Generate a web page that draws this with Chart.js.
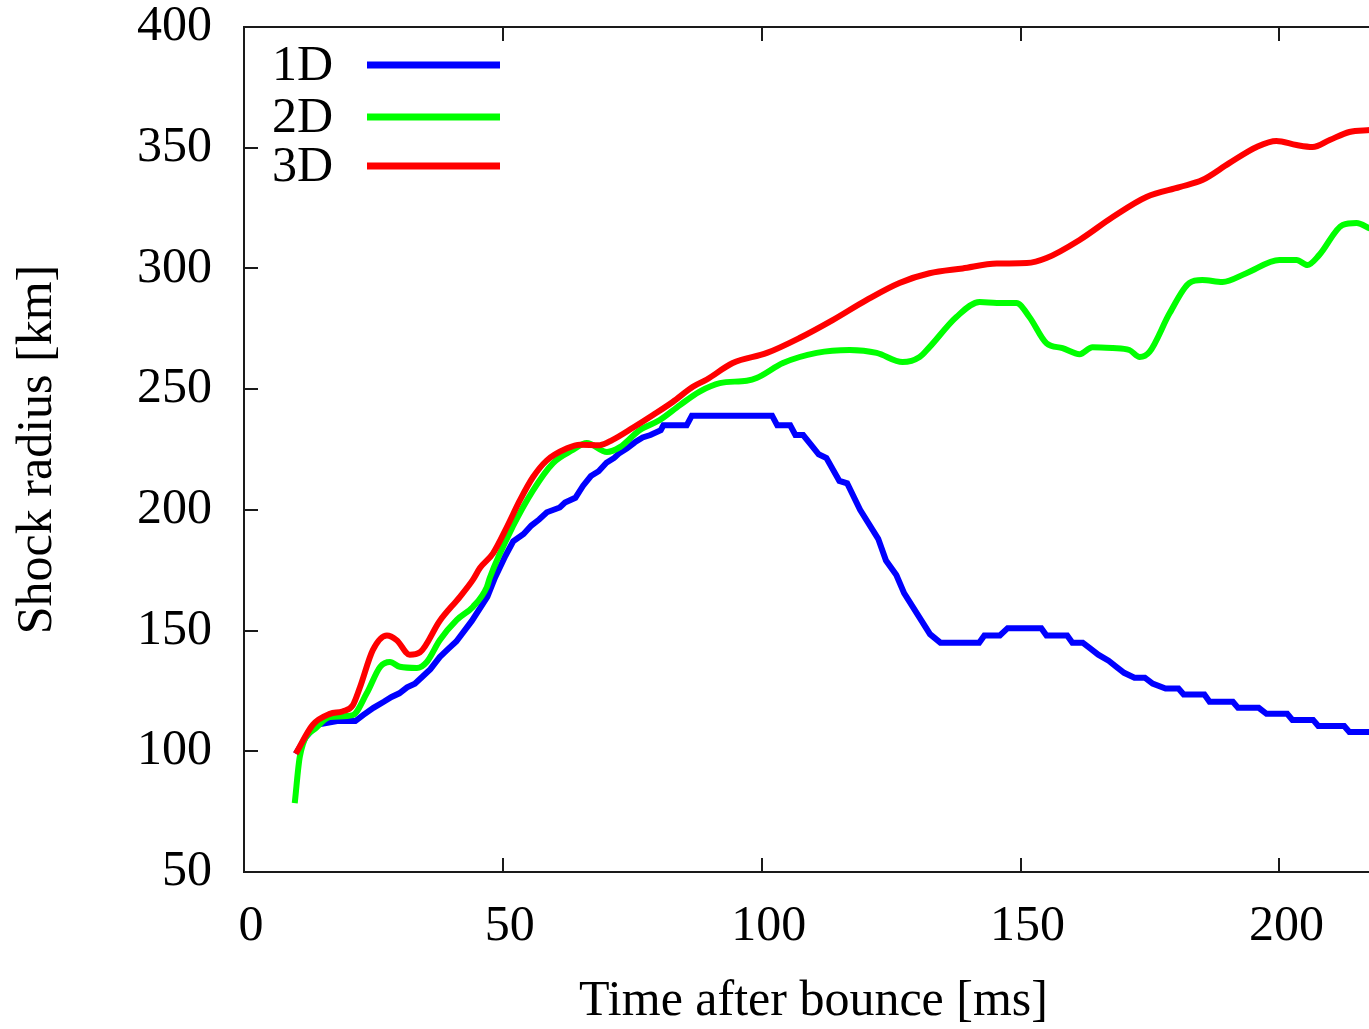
<!DOCTYPE html>
<html><head><meta charset="utf-8">
<script src="https://cdn.jsdelivr.net/npm/chart.js@4/dist/chart.umd.min.js"></script>
<style>
html,body{margin:0;padding:0;background:#fff;overflow:hidden;}
#wrap{position:relative;width:1400px;height:1029px;}
</style></head><body>
<div id="wrap"><canvas id="c"></canvas></div>
<script>
const seriesLabels = ['1D', '2D', '3D'];
const seriesColors = ['#0000ff', '#00ff00', '#ff0000'];

const t1D = [10, 12, 14, 18, 21.5, 23, 25, 27, 28.5, 30, 31.5, 33, 34.5, 36, 37.8, 39.5, 41, 44, 47, 48.5, 50.5, 52, 54, 55.5, 57, 58.5, 61, 62, 64, 65.5, 67, 68.5, 70, 71.5, 72.5, 74, 75.5, 77, 78.5, 80.5, 81, 85.5, 86.5, 102, 103, 105.5, 106.5, 108, 109.5, 111, 112.5, 115, 116.5, 119, 122.5, 124, 126, 127.5, 130, 132.5, 134.5, 142, 143, 146, 147.5, 154, 155, 159, 160, 162, 163.5, 165, 167, 168.5, 170, 172, 174, 175.5, 178, 180.5, 181.5, 185.5, 186.5, 191, 192, 196, 197.5, 201.5, 202.5, 206.5, 207.5, 212.5, 213.5, 220];
const r1D = [99, 106, 111, 112.5, 112.5, 115, 118, 120.5, 122.5, 124, 126.5, 128, 131, 134, 139, 142.5, 145.5, 154, 164, 172, 181, 187, 190, 193.5, 196, 199, 201, 203, 205, 210, 214, 216, 219.5, 221.5, 223.5, 225.5, 228, 230, 231, 233, 235, 235, 239, 239, 235, 235, 231, 231, 227, 223, 221.5, 212, 211, 200, 188, 179, 173, 165.5, 157, 148.5, 145, 145, 148, 148, 151, 151, 148, 148, 145, 145, 142.5, 140, 137.5, 135, 132.5, 130.5, 130.5, 128, 126, 126, 123.5, 123.5, 120.5, 120.5, 118, 118, 115.5, 115.5, 113, 113, 110.5, 110.5, 108, 108];

const t2D = [9.8, 10.8, 14.1, 16.6, 21, 23.7, 26.3, 28.2, 30.1, 33.4, 35.3, 37.8, 41.1, 44.2, 46.9, 47.5, 51.9, 55.8, 59.7, 63.5, 66.2, 70.1, 72.6, 76.4, 80.3, 84.2, 88, 91.9, 97.1, 99, 104.1, 110.6, 117, 122.2, 127.2, 130.5, 132.4, 137.6, 142.1, 145.4, 149.2, 151.7, 155, 158.1, 161.4, 163.9, 167.8, 171, 173, 174.9, 178.8, 182.6, 185.1, 189, 193.6, 200, 203.3, 205.4, 207.7, 212.2, 214.9, 217.5];
const r2D = [78.5, 98, 110, 114.2, 115, 124, 135, 137, 135, 134.5, 137, 146, 154.4, 159.8, 168, 172, 193, 208, 219.4, 224.8, 227.7, 224, 226, 233, 237.2, 243.4, 249, 252.5, 253.5, 254.6, 260.8, 265, 266.2, 265, 261.2, 263.3, 267.4, 279.9, 286.1, 285.7, 285.7, 279.9, 269, 267, 264.5, 267.4, 267, 266.2, 263.3, 265.4, 281.5, 294, 295.2, 294.4, 298, 303.5, 303.5, 301.4, 305.6, 318, 318.8, 316.5];

const t3D = [10, 13.3, 16.6, 19, 21, 22.4, 24.9, 27.6, 29.5, 32, 34, 37.8, 41.7, 44.2, 45.6, 48.1, 50.8, 53.3, 55.8, 58.5, 62.4, 64.9, 68.7, 71.2, 75.1, 79, 82.8, 86.7, 89.4, 94.4, 101, 107.3, 113.7, 120.3, 126.6, 132.4, 138.8, 145.4, 151.2, 155, 161.4, 167.8, 174.3, 180.7, 185.1, 190.3, 195.6, 199.4, 203.3, 206.4, 209.7, 213.5, 217.5];
const r3D = [99, 111, 115.5, 116.5, 119, 126.5, 142, 148, 146, 140, 141, 154, 164, 171, 176, 182, 193, 204, 213.5, 220.5, 225.5, 227, 226.8, 229, 234, 239.3, 244.7, 251, 254, 260.8, 265, 271.2, 278.6, 287, 294, 298, 300, 302, 302.2, 304.3, 311.8, 321.3, 329.6, 333.7, 336.6, 343.6, 350.3, 352.8, 351.1, 350.3, 353.2, 356.5, 357.3];

const xTicks = [0, 50, 100, 150, 200];
const yTicks = [50, 100, 150, 200, 250, 300, 350, 400];
const xRange = [0, 220];
const yRange = [50, 400];

const FONT = "'Liberation Serif', 'Times New Roman', 'DejaVu Serif', serif";
const pts = (t, r) => t.map((v, i) => ({x: v, y: r[i]}));

const framePlugin = {
  id: 'frame',
  afterDatasetsDraw(chart) {
    const {ctx, chartArea: a, scales: {x, y}} = chart;
    ctx.save();
    ctx.strokeStyle = '#1a1a1a';
    ctx.lineWidth = 2;
    ctx.beginPath();
    ctx.moveTo(a.left, a.top); ctx.lineTo(a.right, a.top);
    ctx.lineTo(a.right, a.bottom); ctx.lineTo(a.left, a.bottom); ctx.closePath();
    const L = 14;
    xTicks.forEach(v => {
      const px = Math.round(x.getPixelForValue(v));
      ctx.moveTo(px, a.bottom); ctx.lineTo(px, a.bottom - L);
      ctx.moveTo(px, a.top); ctx.lineTo(px, a.top + L);
    });
    yTicks.forEach(v => {
      const py = Math.round(y.getPixelForValue(v));
      ctx.moveTo(a.left, py); ctx.lineTo(a.left + L, py);
      ctx.moveTo(a.right, py); ctx.lineTo(a.right - L, py);
    });
    ctx.stroke();
    ctx.restore();
  }
};

const legendPlugin = {
  id: 'keyLegend',
  afterDraw(chart) {
    const {ctx, chartArea: a} = chart;
    const rows = [38, 90, 139];
    ctx.save();
    ctx.font = '50px ' + FONT;
    ctx.textAlign = 'right';
    ctx.textBaseline = 'middle';
    chart.data.datasets.slice().sort((p, q) => seriesLabels.indexOf(p.label) - seriesLabels.indexOf(q.label)).forEach((ds, i) => {
      const yy = a.top + rows[i];
      ctx.fillStyle = '#000';
      ctx.fillText(ds.label, a.left + 89, yy + 2);
      ctx.strokeStyle = ds.borderColor;
      ctx.lineWidth = 7;
      ctx.lineCap = 'butt';
      ctx.beginPath();
      ctx.moveTo(a.left + 123, yy); ctx.lineTo(a.left + 256, yy);
      ctx.stroke();
    });
    ctx.restore();
  }
};

const zeroPad = s => { s.paddingTop = 0; s.paddingBottom = 0; s.paddingLeft = 0; s.paddingRight = 0; };

new Chart(document.getElementById('c'), {
  type: 'line',
  data: {
    datasets: [
      {label: seriesLabels[2], data: pts(t3D, r3D), borderColor: seriesColors[2], borderWidth: 6, pointRadius: 0, cubicInterpolationMode: 'monotone', order: 1, fill: false},
      {label: seriesLabels[1], data: pts(t2D, r2D), borderColor: seriesColors[1], borderWidth: 6, pointRadius: 0, cubicInterpolationMode: 'monotone', order: 2, fill: false},
      {label: seriesLabels[0], data: pts(t1D, r1D), borderColor: seriesColors[0], borderWidth: 6, pointRadius: 0, tension: 0, order: 3, fill: false}
    ]
  },
  options: {
    responsive: true,
    maintainAspectRatio: false,
    animation: false,
    devicePixelRatio: 1,
    layout: {padding: {top: 27, right: 17, left: 0, bottom: 0}},
    plugins: {legend: {display: false}, tooltip: {enabled: false}},
    scales: {
      x: {
        type: 'linear', min: xRange[0], max: xRange[1],
        afterBuildTicks: s => { s.ticks = xTicks.map(v => ({value: v})); },
        afterFit: s => { s.height = 157; zeroPad(s); },
        grid: {display: false, drawTicks: false}, border: {display: false},
        ticks: {color: '#000', font: {family: FONT, size: 50, lineHeight: 1}, padding: 30, labelOffset: 7, maxRotation: 0, autoSkip: false},
        title: {display: true, text: 'Time after bounce [ms]', color: '#000', font: {family: FONT, size: 50, lineHeight: 1.1}, padding: {top: 0, bottom: 0}}
      },
      y: {
        type: 'linear', min: yRange[0], max: yRange[1],
        afterBuildTicks: s => { s.ticks = yTicks.map(v => ({value: v})); },
        afterFit: s => { s.width = 244; zeroPad(s); },
        grid: {display: false, drawTicks: false}, border: {display: false},
        ticks: {color: '#000', font: {family: FONT, size: 50, lineHeight: 1}, padding: 32, autoSkip: false},
        title: {display: true, text: 'Shock radius [km]', color: '#000', font: {family: FONT, size: 50, lineHeight: 1.2}, padding: {top: 8, bottom: 0}}
      }
    }
  },
  plugins: [framePlugin, legendPlugin]
});
</script>
</body></html>
